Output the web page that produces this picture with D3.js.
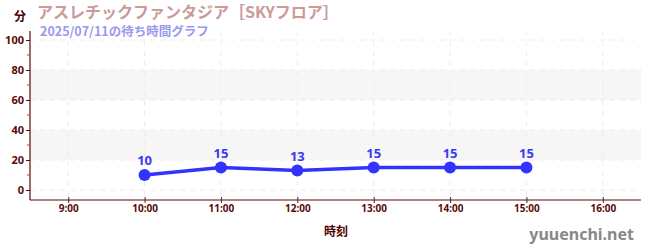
<!DOCTYPE html>
<html>
<head>
<meta charset="utf-8">
<script src="https://cdn.jsdelivr.net/npm/d3@7"></script>
<style>
  body { margin: 0; background: #fff; }
  svg { display: block; font-family: "Noto Sans CJK JP", "Noto Sans", sans-serif; }
</style>
</head>
<body>
<script>
// chart data
const hours = [10, 11, 12, 13, 14, 15];
const waits = [10, 15, 13, 15, 15, 15];
const xTicks = [9, 10, 11, 12, 13, 14, 15, 16];
const yTicks = [0, 20, 40, 60, 80, 100];
const bands = [[20, 40], [60, 80]];

const W = 650, H = 250;
const plotL = 30, plotR = 641, plotT = 31, plotB = 200;

const svg = d3.select('body').append('svg')
    .attr('width', W).attr('height', H);

const x = d3.scaleLinear().domain([8.5, 16.5]).range([plotL, plotR]);
const y = d3.scaleLinear().domain([0, 100]).range([190, 40]);

// shaded bands
svg.selectAll('.band').data(bands).enter().append('rect')
    .attr('x', plotL).attr('width', plotR - plotL)
    .attr('y', d => y(d[1])).attr('height', d => y(d[0]) - y(d[1]))
    .attr('fill', '#f6f6f6');

// grid
svg.selectAll('.hg').data(yTicks).enter().append('line')
    .attr('x1', plotL).attr('x2', plotR)
    .attr('y1', d => y(d)).attr('y2', d => y(d))
    .attr('stroke', '#ececec').attr('stroke-dasharray', '5,5');
svg.selectAll('.vg').data(xTicks).enter().append('line')
    .attr('x1', d => x(d)).attr('x2', d => x(d))
    .attr('y1', plotT).attr('y2', plotB)
    .attr('stroke', '#ececec').attr('stroke-dasharray', '5,5');

const axisColor = '#5a0a0a';

// y axis
const yAxis = svg.append('g')
    .attr('transform', `translate(${plotL},0)`)
    .call(d3.axisLeft(y).tickValues(yTicks).tickSize(4).tickSizeOuter(0));
yAxis.select('.domain').remove();
yAxis.append('line').attr('x1', 0).attr('x2', 0).attr('y1', plotT).attr('y2', plotB)
    .attr('stroke', axisColor).attr('stroke-width', 1.2);
yAxis.selectAll('.tick line').attr('stroke', axisColor);
yAxis.selectAll('.tick text')
    .attr('fill', axisColor).attr('font-size', 11).attr('font-weight', 'bold')
    .attr('font-family', '"Noto Sans", sans-serif').attr('x', -6);
// minor ticks
svg.selectAll('.minor').data(d3.range(10, 100, 20)).enter().append('line')
    .attr('x1', plotL - 3).attr('x2', plotL)
    .attr('y1', d => y(d)).attr('y2', d => y(d))
    .attr('stroke', '#dd3333');

// x axis
const xAxis = svg.append('g')
    .attr('transform', `translate(0,${plotB})`)
    .call(d3.axisBottom(x).tickValues(xTicks).tickFormat(d => d + ':00').tickSize(3).tickSizeOuter(0));
xAxis.select('.domain').remove();
xAxis.append('line').attr('x1', plotL).attr('x2', plotR)
    .attr('stroke', axisColor).attr('stroke-width', 1.2);
xAxis.selectAll('.tick line').attr('y2', 3).attr('y1', -3).attr('stroke', '#333');
xAxis.selectAll('.tick text')
    .attr('fill', axisColor).attr('font-size', 10).attr('font-weight', 'bold')
    .attr('font-family', '"Noto Sans", sans-serif').attr('y', 5);

// series
const pts = hours.map((h, i) => [h, waits[i]]);
svg.append('path').datum(pts)
    .attr('d', d3.line().x(d => x(d[0])).y(d => y(d[1])))
    .attr('fill', 'none').attr('stroke', '#3333ff').attr('stroke-width', 3.5);
svg.selectAll('.dot').data(pts).enter().append('circle')
    .attr('cx', d => x(d[0])).attr('cy', d => y(d[1])).attr('r', 6)
    .attr('fill', '#3333ff');
svg.selectAll('.lbl').data(pts).enter().append('text')
    .attr('x', d => x(d[0])).attr('y', d => y(d[1]) - 10)
    .attr('text-anchor', 'middle').attr('font-size', 13).attr('font-weight', 'bold')
    .attr('font-family', '"Noto Sans", sans-serif')
    .attr('fill', '#3a3af0').text(d => d[1]);

// titles
svg.append('text').attr('x', 14).attr('y', 21).text('分')
    .attr('font-size', 12).attr('font-weight', 'bold').attr('fill', '#4a0000');
svg.append('text').attr('x', 37).attr('y', 18).text('アスレチックファンタジア［SKYフロア］')
    .attr('font-size', 16).attr('font-weight', 'bold').attr('fill', '#cc9999');
svg.append('text').attr('x', 40).attr('y', 36).text('2025/07/11の待ち時間グラフ')
    .attr('font-size', 12.5).attr('font-weight', 'bold').attr('fill', '#9999ee');
svg.append('text').attr('x', 336).attr('y', 236).attr('text-anchor', 'middle').text('時刻')
    .attr('font-size', 12).attr('font-weight', 'bold').attr('fill', '#4a0000');
svg.append('text').attr('x', 634).attr('y', 240).attr('text-anchor', 'end').text('yuuenchi.net')
    .attr('font-size', 16).attr('font-weight', 'bold').attr('fill', '#888')
    .attr('font-family', '"Noto Sans", sans-serif');
</script>
</body>
</html>
